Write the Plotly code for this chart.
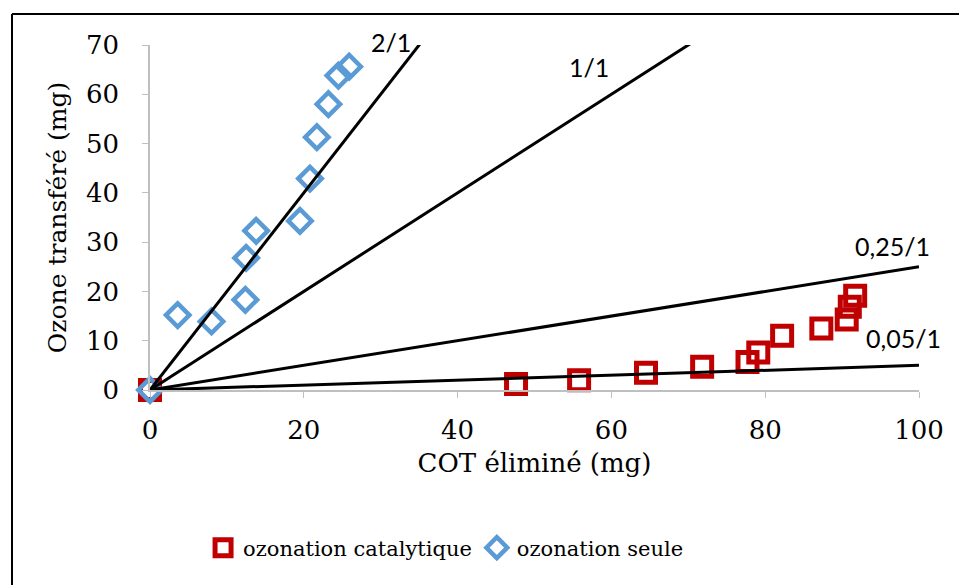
import plotly.graph_objects as go

# Data
cat_x = [0, 47.6, 55.8, 64.5, 71.8, 77.7, 79.1, 82.2, 87.3, 90.6, 91.0, 91.7]
cat_y = [0, 1.2, 2.0, 3.5, 4.7, 5.7, 7.6, 11.0, 12.5, 14.3, 16.9, 19.1]

seule_x = [0, 3.6, 8.0, 12.4, 12.5, 13.8, 19.5, 20.8, 21.7, 23.2, 24.5, 25.9]
seule_y = [0, 15.2, 13.9, 18.3, 26.8, 32.3, 34.3, 42.9, 51.3, 58.0, 63.8, 65.6]

ratios = [2, 1, 0.25, 0.05]
ratio_labels = ["2/1", "1/1", "0,25/1", "0,05/1"]
label_x = [31.3, 57.1, 96.6, 98.0]
label_y = [70.6, 65.5, 29.2, 10.5]
line_x = [0, 100]
y_max = 70

serif = "DejaVu Serif"
sans = "Lato"

fig = go.Figure()

fig.add_trace(go.Scatter(
    x=cat_x, y=cat_y, mode="markers", name="ozonation catalytique",
    marker=dict(symbol="square-open", size=19, color="#C00000",
                line=dict(width=5, color="#C00000")),
    cliponaxis=False,
))
fig.add_trace(go.Scatter(
    x=seule_x, y=seule_y, mode="markers", name="ozonation seule",
    marker=dict(symbol="diamond-open", size=18, color="#5B9BD5",
                line=dict(width=4.5, color="#5B9BD5")),
    cliponaxis=False,
))

for r in ratios:
    fig.add_trace(go.Scatter(
        x=line_x, y=[r * v for v in line_x], mode="lines",
        line=dict(color="black", width=3), showlegend=False, hoverinfo="skip",
    ))

for txt, lx, ly in zip(ratio_labels, label_x, label_y):
    fig.add_annotation(x=lx, y=ly / y_max, xref="x", yref="paper", text=txt,
                       showarrow=False,
                       font=dict(family=sans, size=25, color="black"),
                       xanchor="center", yanchor="middle")

# outer chart border (left and top edges visible in the reference)
bx0 = (12 - 150) / 769
by1 = (390 - 14) / 345

fig.update_layout(
    width=959, height=585,
    margin=dict(l=150, r=40, t=45, b=195),
    paper_bgcolor="white", plot_bgcolor="white",
    font=dict(family=serif, color="black"),
    showlegend=True,
    legend=dict(orientation="h", x=0.385, y=-0.458, xanchor="center", yanchor="middle",
                font=dict(family=serif, size=21, color="black"),
                bgcolor="rgba(0,0,0,0)", itemwidth=30, tracegroupgap=0),
    xaxis=dict(range=[0, 100], dtick=20, showgrid=False, zeroline=False,
               showline=True, linecolor="#BFBFBF", linewidth=1.5,
               ticks="outside", ticklen=6, tickcolor="#BFBFBF",
               tickfont=dict(family=serif, size=26, color="black"),
               ticklabelstandoff=10,
               title=dict(text="COT éliminé (mg)", standoff=10,
                          font=dict(family=serif, size=26, color="black"))),
    yaxis=dict(range=[0, y_max], dtick=10, showgrid=False, zeroline=False,
               showline=True, linecolor="#BFBFBF", linewidth=1.5,
               ticks="outside", ticklen=6, tickcolor="#BFBFBF",
               tickfont=dict(family=serif, size=26, color="black"),
               ticklabelstandoff=18,
               title=dict(text="Ozone transféré (mg)", standoff=12,
                          font=dict(family=serif, size=25, color="black"))),
    shapes=[
        dict(type="line", xref="paper", yref="paper",
             x0=bx0, x1=bx0, y0=-1.0, y1=by1,
             line=dict(color="black", width=2)),
        dict(type="line", xref="paper", yref="paper",
             x0=bx0, x1=1.2, y0=by1, y1=by1,
             line=dict(color="black", width=2)),
    ],
)

fig.write_html(
    "out.html",
    config={"displayModeBar": False},
    post_script="document.body.style.margin='0';document.body.style.overflow='hidden';",
)
